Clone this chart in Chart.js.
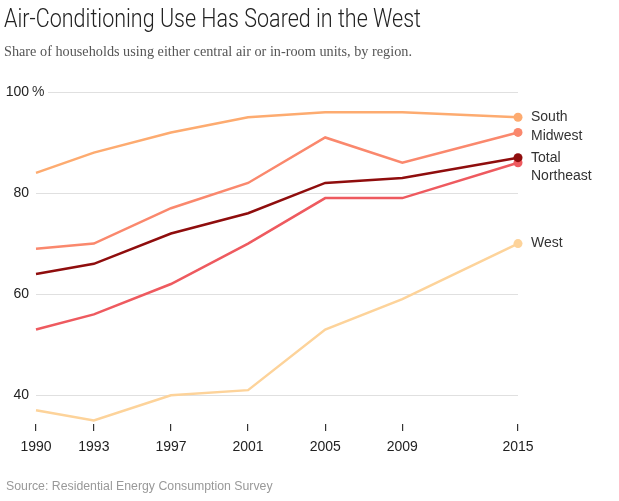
<!DOCTYPE html>
<html>
<head>
<meta charset="utf-8">
<script src="https://cdn.jsdelivr.net/npm/chart.js@4/dist/chart.umd.min.js"></script>
<style>
  body { margin: 0; background: #fff; }
  #wrap { position: relative; width: 619px; height: 501px; overflow: hidden; }
  canvas { position: absolute; left: 0; top: 0; }
  .txt { position: absolute; white-space: nowrap; transform-origin: left center; }
  #titulo { left: 4px; top: 3px; font: 300 25.5px Roboto, "Liberation Sans", sans-serif; color: #222; }
  #subtitulo { left: 4px; top: 42px; font: 15.5px "Liberation Serif", serif; color: #555; }
  #fuente { left: 6px; top: 479px; font: 12.3px "Liberation Sans", sans-serif; color: #999; }
</style>
</head>
<body>
<div id="wrap">
  <canvas id="grafica" width="619" height="501"></canvas>
  <div class="txt" id="titulo">Air-Conditioning Use Has Soared in the West</div>
  <div class="txt" id="subtitulo">Share of households using either central air or in-room units, by region.</div>
  <div class="txt" id="fuente">Source: Residential Energy Consumption Survey</div>
</div>
<script>
// Datos
const anios = [1990, 1993, 1997, 2001, 2005, 2009, 2015];
const ticksY = [40, 60, 80, 100];

const regiones = ['South', 'Midwest', 'Total', 'Northeast', 'West'];
const south = [84, 88, 92, 95, 96, 96, 95];
const midwest = [69, 70, 77, 82, 91, 86, 92];
const total = [64, 66, 72, 76, 82, 83, 87];
const northeast = [53, 56, 62, 70, 79, 79, 86];
const west = [37, 35, 40, 41, 53, 59, 70];

const colores = ['#fdab70', '#fa886d', '#8f0d0d', '#ee5a5f', '#fdd39a'];
const series = [south, midwest, total, northeast, west];

const fuenteEjes = { family: '"Liberation Sans", sans-serif', size: 14 };

// Ajustar el ancho de los textos del encabezado al del original
function ajustarAncho(id, ancho) {
    const el = document.getElementById(id);
    const w = el.getBoundingClientRect().width;
    if (w > 0) el.style.transform = `scaleX(${ancho / w})`;
}
ajustarAncho('titulo', 417);
ajustarAncho('subtitulo', 408);

// Lineas de cuadricula que empiezan despues de la etiqueta (como el original)
const pluginCuadricula = {
    id: 'cuadricula',
    beforeDatasetsDraw(chart) {
        const { ctx, chartArea, scales: { y } } = chart;
        ctx.save();
        ctx.strokeStyle = '#e0e0e0';
        ctx.lineWidth = 1;
        ticksY.forEach(v => {
            const py = Math.round(y.getPixelForValue(v)) + 0.5;
            const x0 = v === 100 ? chartArea.left + 12 : chartArea.left;
            ctx.beginPath();
            ctx.moveTo(x0, py);
            ctx.lineTo(chartArea.right, py);
            ctx.stroke();
        });
        ctx.restore();
    },
    afterDraw(chart) {
        const { ctx, chartArea, scales: { y } } = chart;
        ctx.save();
        ctx.font = '14px "Liberation Sans", sans-serif';
        ctx.fillStyle = '#333';
        ctx.textBaseline = 'middle';
        ctx.textAlign = 'left';
        ctx.fillText('%', chartArea.left - 4, y.getPixelForValue(100));

        // Etiquetas de cada serie al final, separadas para que no se encimen
        const finales = chart.data.datasets.map((ds, i) => {
            const meta = chart.getDatasetMeta(i);
            const pt = meta.data[meta.data.length - 1];
            return { texto: ds.label, x: pt.x, y: pt.y };
        }).sort((a, b) => a.y - b.y);
        let ultimo = -Infinity;
        finales.forEach(f => {
            const py = Math.max(f.y, ultimo + 18.5);
            ultimo = py;
            ctx.fillText(f.texto, f.x + 13, py);
        });
        ctx.restore();
    }
};

new Chart(document.getElementById('grafica').getContext('2d'), {
    type: 'line',
    data: {
        datasets: regiones.map((nombre, i) => ({
            label: nombre,
            data: anios.map((a, j) => ({ x: a, y: series[i][j] })),
            borderColor: colores[i],
            backgroundColor: colores[i],
            borderWidth: 2.5,
            tension: 0,
            clip: false,
            pointRadius: ctx => ctx.dataIndex === anios.length - 1 ? 4.5 : 0,
            pointHoverRadius: 0,
            pointBorderWidth: 0
        }))
    },
    options: {
        responsive: false,
        animation: false,
        events: [],
        layout: { padding: { left: 0, right: 101, top: 92, bottom: 37 } },
        plugins: {
            legend: { display: false },
            tooltip: { enabled: false }
        },
        scales: {
            x: {
                type: 'linear',
                min: anios[0],
                max: anios[anios.length - 1],
                afterBuildTicks: s => { s.ticks = anios.map(v => ({ value: v })); },
                afterFit: s => { s.height = 40; },
                border: { display: false },
                grid: {
                    drawOnChartArea: false,
                    drawTicks: true,
                    tickLength: 7,
                    tickColor: '#333',
                    lineWidth: 1.2
                },
                ticks: {
                    color: '#222',
                    font: fuenteEjes,
                    padding: 8,
                    maxRotation: 0,
                    callback: v => String(v)
                }
            },
            y: {
                min: 34.3,
                max: 100,
                afterBuildTicks: s => { s.ticks = ticksY.map(v => ({ value: v })); },
                afterFit: s => { s.width = 36; },
                border: { display: false },
                grid: { display: false, drawTicks: false },
                ticks: {
                    color: '#222',
                    font: fuenteEjes,
                    padding: 7,
                    callback: v => String(v)
                }
            }
        }
    },
    plugins: [pluginCuadricula]
});
</script>
</body>
</html>
